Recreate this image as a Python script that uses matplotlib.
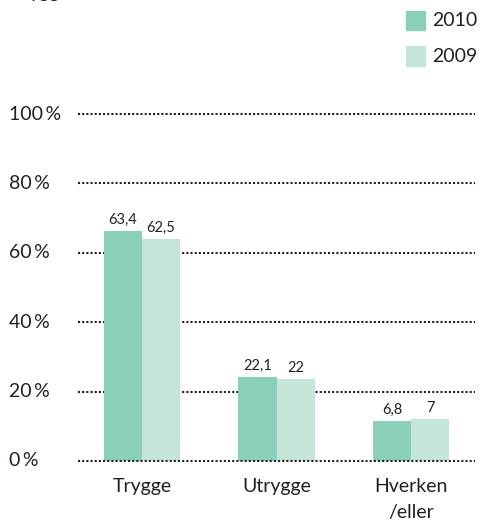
import numpy as np
import matplotlib
matplotlib.use('Agg')
import matplotlib.pyplot as plt
from matplotlib import transforms, patches

plt.rcParams['font.family'] = ['Lato', 'DejaVu Sans']

categories = ['Trygge', 'Utrygge', 'Hverken\n/eller']
labels_2010 = ['63,4', '22,1', '6,8']
labels_2009 = ['62,5', '22', '7']
# bar heights as drawn in the picture (in % of the axis)
heights_2010 = [66.3, 24.2, 11.5]
heights_2009 = [64.0, 23.6, 12.1]
yticks = [0, 20, 40, 60, 80, 100]
ytick_labels = ['0\u2009%', '20\u2009%', '40\u2009%', '60\u2009%', '80\u2009%', '100\u2009%']

c2010 = '#8ACFB9'
c2009 = '#C5E5D9'
txt = '#231F20'

fig = plt.figure(figsize=(4.79, 5.23), dpi=100)
ax = fig.add_axes([78 / 479, 62 / 523, 397 / 479, 347 / 523])

x = np.arange(len(categories))
w = 0.283

for y in yticks:
    ax.axhline(y, color=txt, linestyle=(0, (1, 1.0)), linewidth=1.5,
               zorder=3 if y == 0 else 1, clip_on=False)

b1 = ax.bar(x - w / 2, heights_2010, w, color=c2010, zorder=2, label='2010')
b2 = ax.bar(x + w / 2, heights_2009, w, color=c2009, zorder=2, label='2009')

for bars, labs in [(b1, labels_2010), (b2, labels_2009)]:
    for r, s in zip(bars, labs):
        ax.annotate(s, (r.get_x() + r.get_width() / 2, r.get_height()),
                    xytext=(0, 3), textcoords='offset points',
                    ha='center', va='bottom', fontsize=10.5, color=txt)

ax.set_xlim(-0.476, 2.476)
ax.set_ylim(0, 100)
ax.set_xticks(x)
ax.set_xticklabels(categories, fontsize=14, color=txt, linespacing=1.65)
ax.tick_params(axis='x', length=0, pad=12)
ax.set_yticks([])
for s in ax.spines.values():
    s.set_visible(False)

tr = transforms.blended_transform_factory(fig.transFigure, ax.transData)
for y, s in zip(yticks, ytick_labels):
    ax.text(9 / 479, y, s, transform=tr, ha='left', va='center', fontsize=14, color=txt)

# legend
for i, (lab, col) in enumerate([('2010', c2010), ('2009', c2009)]):
    yc = 1 - (21 + 35 * i) / 523
    fig.patches.append(patches.Rectangle((406 / 479, yc - 9.5 / 523), 19 / 479, 19 / 523,
                                         transform=fig.transFigure, color=col))
    fig.text(432 / 479, yc, lab, ha='left', va='center', fontsize=14, color=txt)

# cropped title at the very top
fig.text(30 / 479, 1 + 2 / 523, 'ygg', ha='left', va='baseline', fontsize=14, color=txt)

fig.savefig('out.png', dpi=100)
